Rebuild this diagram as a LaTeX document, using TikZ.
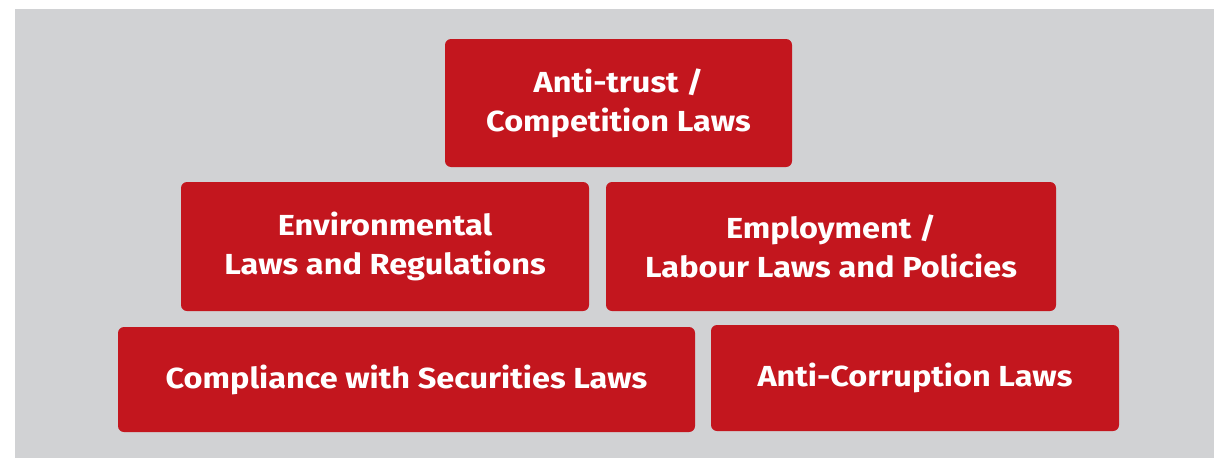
\documentclass[tikz,border=0pt]{standalone}
\usepackage{fontspec}
\setmainfont{Fira Sans}[FakeStretch=1.12]
\definecolor{bggrey}{HTML}{D1D2D4}
\definecolor{boxred}{HTML}{C3161E}
\begin{document}
\begin{tikzpicture}[x=1pt,y=-1pt,
  lawbox/.style={fill=boxred, draw=none, rounded corners=6pt, text=white,
    font=\fontsize{29}{39}\selectfont\bfseries, align=center, inner sep=0pt}]
\useasboundingbox (0,0) rectangle (1214,458);
\fill[bggrey] (15,9) rectangle (1214,458);
\node[lawbox, minimum width=347pt, minimum height=128pt] (antitrust) at (618.5,103) {Anti-trust /\\Competition Laws};
\node[lawbox, minimum width=408pt, minimum height=129pt] (env) at (385,246.5) {Environmental\\Laws and Regulations};
\node[lawbox, minimum width=450pt, minimum height=129pt] (emp) at (831,246.5) {Employment /\\Labour Laws and Policies};
\node[lawbox, minimum width=577pt, minimum height=105pt] (sec) at (406.5,379.5) {Compliance with Securities Laws};
\node[lawbox, minimum width=408pt, minimum height=106pt] (corr) at (915,378) {Anti-Corruption Laws};
\end{tikzpicture}
\end{document}
